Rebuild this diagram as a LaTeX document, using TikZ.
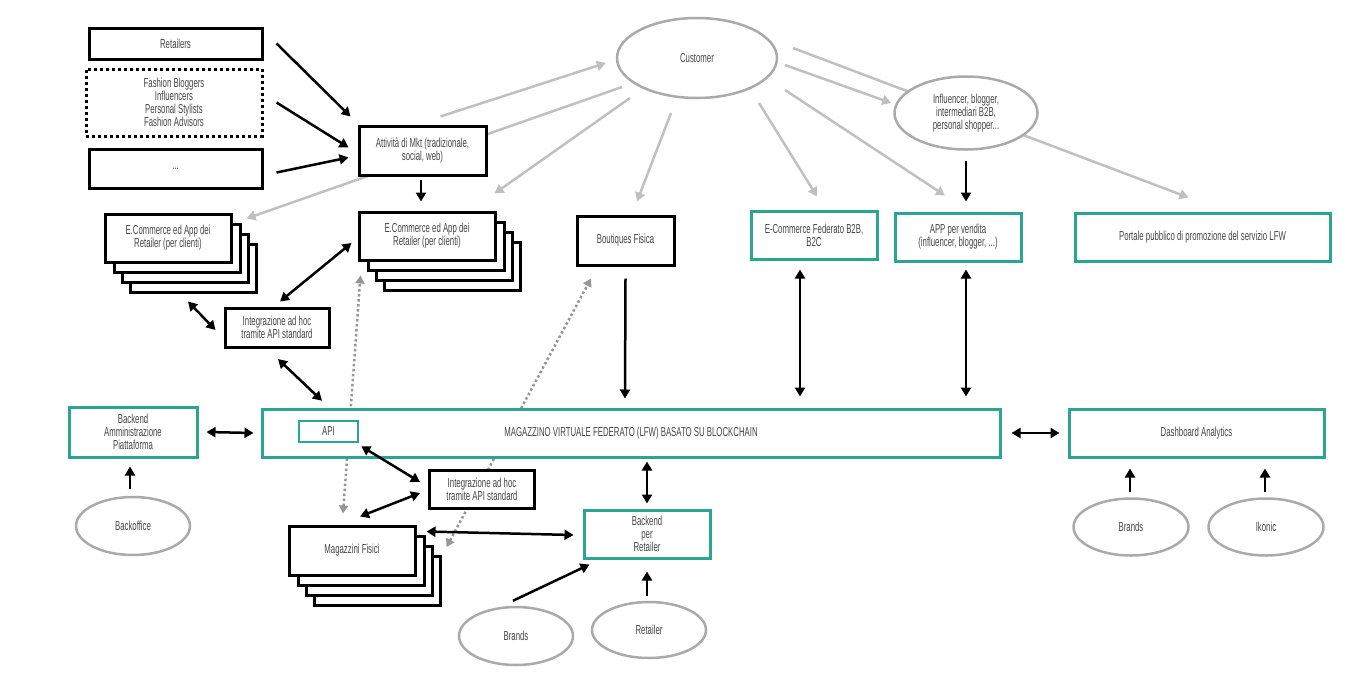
\documentclass[tikz,border=0pt]{standalone}
\usepackage{fontspec}
\setmainfont{Liberation Sans}[FakeStretch=0.6]
\usetikzlibrary{positioning,calc,shapes.geometric,arrows.meta}
\definecolor{lfwteal}{RGB}{42,165,142}
\definecolor{txtgrey}{RGB}{70,70,70}
\definecolor{ellgrey}{RGB}{170,170,170}
\definecolor{linegrey}{RGB}{192,192,192}
\definecolor{dotgrey}{RGB}{150,150,150}
\pgfdeclarelayer{background}
\pgfsetlayers{background,main}

\begin{document}
\begin{tikzpicture}[x=1pt, y=-1pt,
    every node/.style={font=\fontsize{13}{12.8}\selectfont, text=txtgrey, align=center, inner sep=0pt},
    blkbox/.style={draw=black, line width=3pt, fill=white},
    tealbox/.style={draw=lfwteal, line width=3pt, fill=white},
    dotbox/.style={draw=black, line width=3pt, dash pattern=on 3pt off 3pt, fill=white},
    greyell/.style={ellipse, draw=ellgrey, line width=2.5pt, fill=white},
    blkarr/.style={-{Triangle[length=9pt,width=10pt]}, line width=2.5pt},
    blkdbl/.style={{Triangle[length=9pt,width=10pt]}-{Triangle[length=9pt,width=10pt]}, line width=2.5pt},
    greyarr/.style={-{Triangle[length=9pt,width=10pt]}, draw=linegrey, line width=2.5pt},
    dotarr/.style={{Triangle[length=8pt,width=9pt]}-{Triangle[length=8pt,width=9pt]}, draw=dotgrey, line width=2.5pt, dash pattern=on 2.5pt off 2.5pt},
  ]
    \useasboundingbox (0,0) rectangle (1357,683);

    \node[blkbox, minimum width=173pt, minimum height=31pt] (ret) at (175.5,43.5) {Retailers};
    \node[dotbox, minimum width=176pt, minimum height=67pt] (fash) at (174,102.5) {Fashion Bloggers\\Influencers\\Personal Stylists\\Fashion Advisors};
    \node[blkbox, minimum width=173pt, minimum height=39pt] (etc) at (175.5,168.5) {...};
    \node[blkbox, minimum width=127pt, minimum height=49pt] (mkt) at (422.5,150.5) {Attività di Mkt (tradizionale,\\social, web)};

    \node[greyell, minimum width=160pt, minimum height=80pt] (cust) at (697,58) {Customer};
    \node[greyell, minimum width=143pt, minimum height=73pt] (infl) at (966,113) {Influencer, blogger,\\intermediari B2B,\\personal shopper...};

    \foreach \dx/\dy in {25/30,17/20,9/10}
      \draw[blkbox] (105+\dx,214+\dy) rectangle (231+\dx,262+\dy);
    \node[blkbox, minimum width=126pt, minimum height=48pt] (ecom1) at (168,238) {E.Commerce ed App dei\\Retailer (per clienti)};
    \foreach \dx/\dy in {25/30,17/20,9/10}
      \draw[blkbox] (359+\dx,212+\dy) rectangle (495+\dx,260+\dy);
    \node[blkbox, minimum width=136pt, minimum height=48pt] (ecom2) at (427,236) {E.Commerce ed App dei\\Retailer (per clienti)};
    \node[blkbox, minimum width=97pt, minimum height=49pt] (bout) at (625.5,240.5) {Boutiques Fisica};
    \node[tealbox, minimum width=126pt, minimum height=48pt] (fed) at (814,235) {E-Commerce Federato B2B,\\B2C};
    \node[tealbox, minimum width=126pt, minimum height=48pt] (app) at (958,237) {APP per vendita\\(influencer, blogger, ...)};
    \node[tealbox, minimum width=255pt, minimum height=48pt] (port) at (1202.5,237) {Portale pubblico di promozione del servizio LFW};

    \node[blkbox, minimum width=104pt, minimum height=39pt] (int1) at (277,327.5) {Integrazione ad hoc\\tramite API standard};

    \node[tealbox, minimum width=738pt, minimum height=48pt] (lfw) at (631,433) {MAGAZZINO VIRTUALE FEDERATO (LFW) BASATO SU BLOCKCHAIN};
    \node[tealbox, line width=2.5pt, minimum width=59pt, minimum height=21pt] (api) at (328.5,431.5) {API};
    \node[tealbox, minimum width=128pt, minimum height=50pt] (bkadm) at (133,432) {Backend\\Amministrazione\\Piattaforma};
    \node[tealbox, minimum width=255pt, minimum height=48pt] (dash) at (1196.5,433) {Dashboard Analytics};
    \node[greyell, minimum width=114pt, minimum height=58pt] (bkoff) at (133,526) {Backoffice};

    \node[blkbox, minimum width=105pt, minimum height=38pt] (int2) at (482,489) {Integrazione ad hoc\\tramite API standard};
    \foreach \dx/\dy in {25/30,17/20,9/10}
      \draw[blkbox] (289+\dx,526+\dy) rectangle (415+\dx,575+\dy);
    \node[blkbox, minimum width=126pt, minimum height=49pt] (mag) at (352,550.5) {Magazzini Fisici};
    \node[tealbox, minimum width=126pt, minimum height=48pt] (bkret) at (647,534) {Backend\\per\\Retailer};
    \node[greyell, minimum width=114pt, minimum height=58pt] (brandsr) at (516,636) {Brands};
    \node[greyell, minimum width=114pt, minimum height=56pt] (retl) at (649,630) {Retailer};
    \node[greyell, minimum width=115pt, minimum height=57pt] (brandsa) at (1131,527) {Brands};
    \node[greyell, minimum width=115pt, minimum height=57pt] (ikonic) at (1266,527) {Ikonic};

    \begin{pgfonlayer}{background}
      \draw[greyarr] ([xshift=18pt,yshift=8pt]mkt.north) -- ([xshift=-10pt,yshift=-5pt]cust.west);
      \draw[greyarr] ([xshift=-75pt,yshift=-29pt]cust.center) -- ([xshift=14pt,yshift=-6pt]ecom1.north east);
      \draw[greyarr] ([xshift=-67pt,yshift=-40pt]cust.center) -- ([xshift=-2pt,yshift=17pt]ecom2.north east);
      \draw[greyarr] ([xshift=-26pt,yshift=-55pt]cust.center) -- ([xshift=11.5pt,yshift=13pt]bout.north);
      \draw[greyarr] ([xshift=62pt,yshift=-45pt]cust.center) -- ([xshift=3pt,yshift=13pt]fed.north);
      \draw[greyarr] ([xshift=88pt,yshift=-32pt]cust.center) -- ([xshift=-13pt,yshift=16pt]app.north);
      \draw[greyarr] ([xshift=88pt,yshift=-7pt]cust.center) -- ([xshift=-2pt,yshift=10pt]infl.west);
      \draw[greyarr] ([xshift=96pt,yshift=10pt]cust.center) -- ([xshift=-14pt,yshift=14pt]port.north);
      \draw[dotarr] ([xshift=-9pt,yshift=11pt]mag.north) -- ([xshift=3pt,yshift=-14pt]ecom2.south west);
      \draw[dotarr] ([xshift=30pt,yshift=3.5pt]mag.east) -- ([xshift=-34.5pt,yshift=-12pt]bout.south);
    \end{pgfonlayer}

    \draw[blkarr] ([xshift=13pt]ret.east) -- ([xshift=-7pt,yshift=8pt]mkt.north west);
    \draw[blkarr] ([xshift=13pt]fash.east) -- ([xshift=-9pt,yshift=3pt]mkt.west);
    \draw[blkarr] ([xshift=13pt,yshift=-4pt]etc.east) -- ([xshift=-9pt,yshift=-7pt]mkt.west);
    \draw[blkarr] ([xshift=-1.5pt,yshift=-3pt]mkt.south) -- ([xshift=-6pt,yshift=9pt]ecom2.north);
    \draw[blkarr] ([yshift=-10pt]infl.south) -- ([xshift=8pt,yshift=10pt]app.north);

    \draw[blkdbl] ([xshift=20pt,yshift=-38pt]ecom1.south) -- ([xshift=-8pt,yshift=-2.5pt]int1.west);
    \draw[blkdbl] ([xshift=3pt,yshift=5pt]int1.north) -- ([xshift=-6pt,yshift=-7pt]ecom2.west);
    \draw[blkdbl] ([xshift=1pt,yshift=-10.5pt]int1.south) -- ([xshift=-6.5pt,yshift=19pt]api.north);

    \draw[blkarr] ([yshift=-12pt]bout.south) -- ([xshift=-6pt,yshift=9pt]lfw.north);
    \draw[blkdbl] ([xshift=-14pt,yshift=-9pt]fed.south) -- ([xshift=169pt,yshift=11pt]lfw.north);
    \draw[blkdbl] ([xshift=8pt,yshift=-7pt]app.south) -- ([xshift=335pt,yshift=11pt]lfw.north);
    \draw[blkdbl] ([xshift=8pt]bkadm.east) -- ([xshift=-7pt]lfw.west);
    \draw[blkdbl] ([xshift=10pt]lfw.east) -- ([xshift=-8pt]dash.west);
    \draw[blkarr] ([xshift=-3pt,yshift=7pt]bkoff.north) -- ([xshift=-3pt,yshift=-8pt]bkadm.south);

    \draw[blkdbl] ([xshift=2pt,yshift=-3pt]api.south east) -- ([xshift=-8pt,yshift=7pt]int2.west);
    \draw[blkdbl] ([xshift=-8pt,yshift=-4pt]int2.west) -- ([xshift=8pt,yshift=8pt]mag.north);
    \draw[blkdbl] ([xshift=10pt,yshift=-7pt]mag.north east) -- ([xshift=-9pt,yshift=-1pt]bkret.west);
    \draw[blkdbl] ([xshift=16pt,yshift=-3pt]lfw.south) -- ([yshift=5pt]bkret.north);
    \draw[blkarr] ([xshift=-3pt,yshift=5pt]brandsr.north) -- ([xshift=7pt,yshift=-5pt]bkret.south west);
    \draw[blkarr] ([xshift=-2pt,yshift=5pt]retl.north) -- ([yshift=-12pt]bkret.south);
    \draw[blkarr] ([xshift=-1pt,yshift=5.5pt]brandsa.north) -- ([xshift=-66.5pt,yshift=-10pt]dash.south);
    \draw[blkarr] ([xshift=-1pt,yshift=5.5pt]ikonic.north) -- ([xshift=68.5pt,yshift=-10pt]dash.south);
  \end{tikzpicture}
\end{document}
